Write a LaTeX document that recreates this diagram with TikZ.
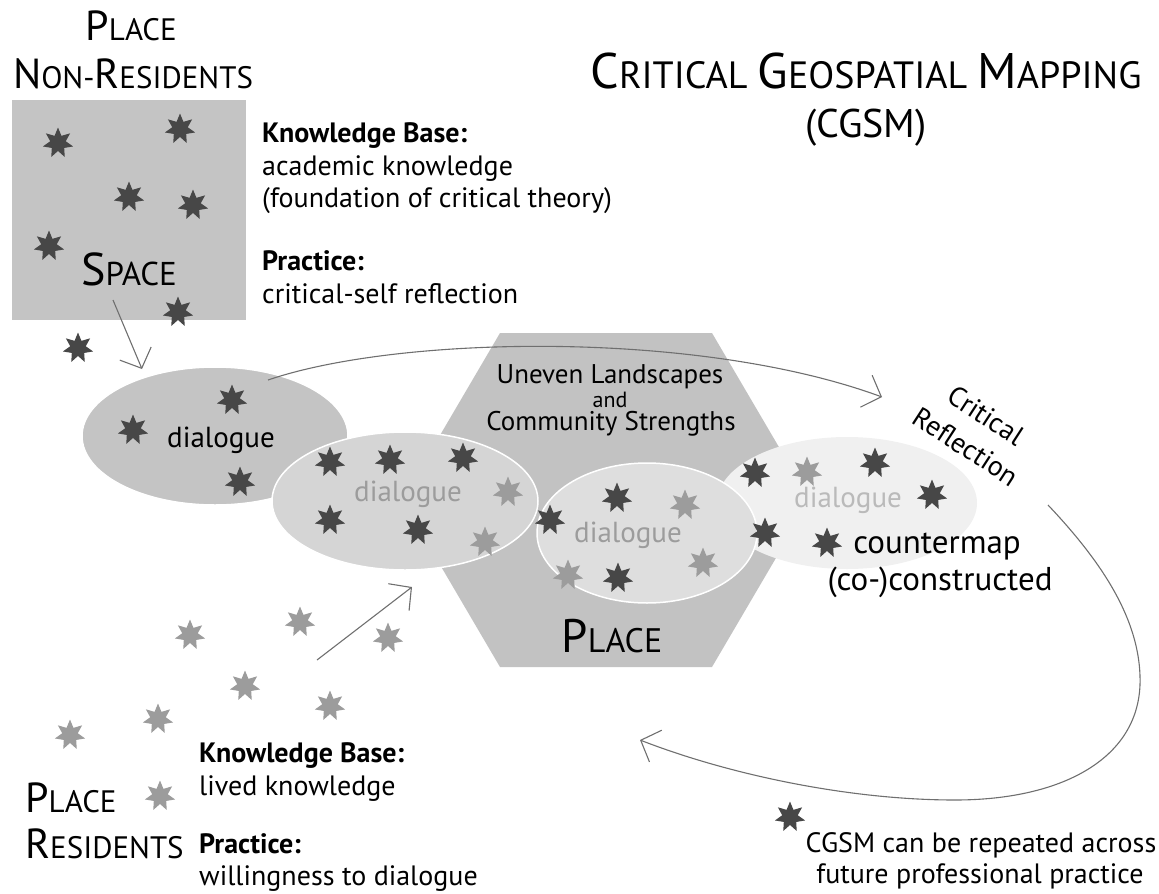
\documentclass[tikz,border=0pt]{standalone}
\usepackage{fontspec}
\setmainfont{PT Sans}
\usepackage{tikz}
\usetikzlibrary{shapes.geometric,arrows.meta,positioning}

\definecolor{stardark}{HTML}{474747}
\definecolor{starlight}{HTML}{9C9C9C}
\definecolor{boxgray}{HTML}{C4C4C4}
\definecolor{hexgray}{HTML}{C2C2C2}
\definecolor{dlgone}{HTML}{C4C4C4}
\definecolor{dlgtwo}{HTML}{D5D5D5}
\definecolor{dlgthree}{HTML}{DEDEDE}
\definecolor{dlgfour}{HTML}{F0F0F0}
\definecolor{linegray}{HTML}{6F6F6F}

\newcommand{\pxsize}[1]{\fontsize{#1}{#1}\selectfont}
\newcommand{\sccap}[3]{{\pxsize{#1}#2}#3}

\tikzset{
  darkstar/.style={star, star points=7, star point ratio=1.95, fill=stardark, inner sep=0pt, minimum size=31pt},
  lightstar/.style={darkstar, fill=starlight},
  dlg/.style={ellipse, draw=white, line width=1.5pt, inner sep=0pt},
  flow/.style={draw=linegray, line width=1.1pt, -{Straight Barb[length=16pt,width=34pt]}},
  lbl/.style={inner sep=0pt, anchor=base west, font=\pxsize{28}},
  head/.style={lbl, font=\pxsize{28}\bfseries},
}

\begin{document}
\begin{tikzpicture}[x=1pt, y=-1pt]
    \useasboundingbox (0,0) rectangle (1159,894);

    % place hexagon
    \fill[hexgray] (402,500) -- (500,333) -- (712,333) -- (810,500) -- (712,667) -- (500,667) -- cycle;

    % space box
    \node[fill=boxgray, anchor=north west, minimum width=234pt, minimum height=220pt, inner sep=0pt] (spacebox) at (12,100) {};

    % dialogue ellipses
    \node[dlg, fill=dlgone, minimum width=266pt, minimum height=138pt] (dlg1) at (215,436) {};
    \node[dlg, fill=dlgfour, draw=none, minimum width=260pt, minimum height=132pt] (dlg4) at (847,503) {};
    \node[dlg, fill=dlgtwo, minimum width=266pt, minimum height=138pt] (dlg2) at (405,501) {};
    \node[dlg, fill=dlgthree, minimum width=220pt, minimum height=140pt] (dlg3) at (647,533) {};

    \node[font=\pxsize{29}] (dtext1) at (221,440) {dialogue};
    \node[font=\pxsize{29}, text=starlight] (dtext2) at (408,494) {dialogue};
    \node[font=\pxsize{29}, text=starlight] (dtext3) at (628,535) {dialogue};
    \node[font=\pxsize{29}, text=black!27] (dtext4) at (848,500) {dialogue};

    % stars
    \foreach \x/\y [count=\i] in {58/143, 180/129, 129/197, 193/205, 49/246, 178/312, 78/348,
        232/400, 133/430, 240/482, 330/462, 390/460, 463/458, 330/520, 418/530,
        550/520, 617/498, 618/578, 755/473, 875/463, 932/495, 765/533, 827/543, 790/817}
        \node[darkstar] (ds\i) at (\x,\y) {};
    \foreach \x/\y [count=\i] in {508/492, 485/542, 685/505, 703/563, 568/575, 807/472,
        190/635, 300/622, 388/638, 245/686, 158/719, 330/706, 70/735, 160/796}
        \node[lightstar] (ls\i) at (\x,\y) {};

    % titles
    \node[inner sep=0pt, anchor=base, font=\pxsize{38}] (title1) at (866,88)
        {\sccap{50}{C}{RITICAL} \sccap{50}{G}{EOSPATIAL} \sccap{50}{M}{APPING}};
    \node[inner sep=0pt, anchor=base, font=\pxsize{40}] (title2) at (866,137) {(CGSM)};

    \node[inner sep=0pt, anchor=base, font=\pxsize{31}] (nonres1) at (131,40) {\sccap{42}{P}{LACE}};
    \node[inner sep=0pt, anchor=base, font=\pxsize{31}] (nonres2) at (133,88) {\sccap{42}{N}{ON-}\sccap{42}{R}{ESIDENTS}};
    \node[inner sep=0pt, anchor=base, font=\pxsize{33}] (space) at (129,285) {\sccap{46}{S}{PACE}};

    \node[head] (kb1) at (262,142) {Knowledge Base:};
    \node[lbl] (kb2) at (262,175) {academic knowledge};
    \node[lbl] (kb3) at (262,207) {(foundation of critical theory)};
    \node[head] (pr1) at (262,270) {Practice:};
    \node[lbl] (pr2) at (262,303) {critical-self reflection};

    % place
    \node[inner sep=0pt, anchor=base, font=\pxsize{27}] (uneven1) at (610,383) {Uneven Landscapes};
    \node[inner sep=0pt, anchor=base, font=\pxsize{22}] (uneven2) at (610,407) {and};
    \node[inner sep=0pt, anchor=base, font=\pxsize{27}] (uneven3) at (611,430) {Community Strengths};
    \node[inner sep=0pt, anchor=base, font=\pxsize{34}] (place) at (612,652) {\sccap{47}{P}{LACE}};

    \node[inner sep=0pt, anchor=base, font=\pxsize{33}] (cmap1) at (937,553) {countermap};
    \node[inner sep=0pt, anchor=base, font=\pxsize{33}] (cmap2) at (940,590) {(co-)constructed};
    \node[inner sep=0pt, rotate=-33, align=center, font=\fontsize{28}{37}\selectfont] (crit) at (976,431) {Critical\\Reflection};

    % residents
    \node[inner sep=0pt, anchor=base west, font=\pxsize{31}] (res1) at (25,812) {\sccap{42}{P}{LACE}};
    \node[inner sep=0pt, anchor=base west, font=\pxsize{31}] (res2) at (25,858) {\sccap{42}{R}{ESIDENTS}};
    \node[head] (kb4) at (199,762) {Knowledge Base:};
    \node[lbl] (kb5) at (199,795) {lived knowledge};
    \node[head] (pr3) at (199,853) {Practice:};
    \node[lbl] (pr4) at (199,885) {willingness to dialogue};

    \node[inner sep=0pt, anchor=base, font=\pxsize{28}] (rep1) at (981,852) {CGSM can be repeated across};
    \node[inner sep=0pt, anchor=base, font=\pxsize{28}] (rep2) at (980,883) {future professional practice};

    % connectors
    \coordinate (spacetail) at (113,300);
    \coordinate (spacehead) at (142,369);
    \coordinate (dlgtail) at (268,380);
    \coordinate (crithead) at (882,397);
    \coordinate (restail) at (317,660);
    \coordinate (reshead) at (412,587);
    \coordinate (looptail) at (1048,505);
    \coordinate (loophead) at (640,740);

    \draw[flow] (spacetail) -- (spacehead);
    \draw[flow] (restail) -- (reshead);
    \draw[flow] (dlgtail) .. controls (400,335) and (700,330) .. (crithead);
    \draw[flow] (looptail) .. controls (1100,560) and (1142,620) .. (1140,685)
        .. controls (1137,760) and (1060,800) .. (955,800)
        .. controls (850,800) and (730,775) .. (loophead);
\end{tikzpicture}
\end{document}
